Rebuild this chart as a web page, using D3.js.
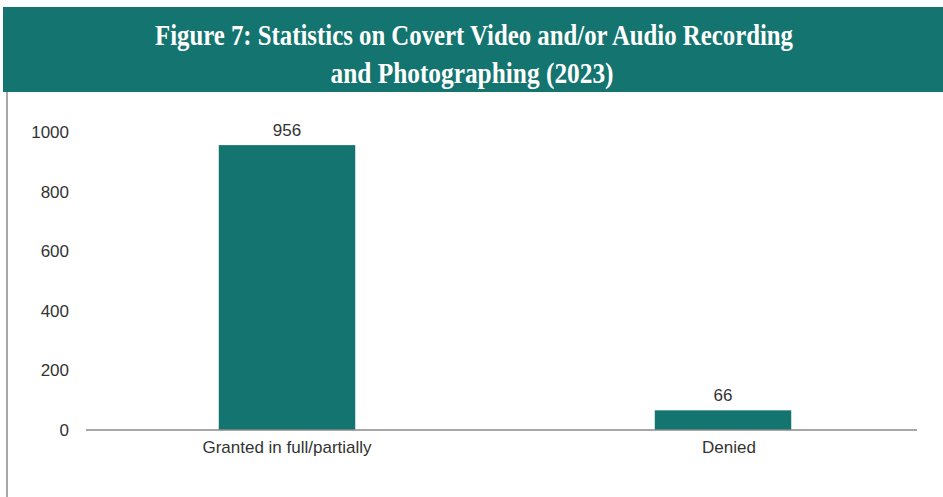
<!DOCTYPE html>
<html>
<head>
<meta charset="utf-8">
<script src="https://cdn.jsdelivr.net/npm/d3@7"></script>
<style>
  html, body { margin: 0; padding: 0; background: #fff; }
  svg { display: block; }
</style>
</head>
<body>
<svg id="chart" width="943" height="497"></svg>
<script>
const titleLines = ["Figure 7: Statistics on Covert Video and/or Audio Recording", "and Photographing (2023)"];
const categories = ["Granted in full/partially", "Denied"];
const values = [956, 66];
const yTicks = [0, 200, 400, 600, 800, 1000];

const W = 943, H = 497;
const teal = "#137470";
const svg = d3.select("#chart");

// banner
svg.append("rect").attr("x", 3).attr("y", 7).attr("width", W - 3).attr("height", 85).attr("fill", teal);
const titleWidths = [638, 283];
titleLines.forEach((t, i) => {
  svg.append("text")
    .attr("x", (155 + 793) / 2 - (i === 1 ? 2 : 0))
    .attr("y", 45 + i * 38)
    .attr("text-anchor", "middle")
    .attr("fill", "#fff")
    .attr("font-family", "'Liberation Serif', 'DejaVu Serif', serif")
    .attr("font-weight", "bold")
    .attr("font-size", 30)
    .attr("textLength", titleWidths[i])
    .attr("lengthAdjust", "spacingAndGlyphs")
    .text(t);
});

// left border
svg.append("line").attr("x1", 7).attr("x2", 7).attr("y1", 92).attr("y2", H)
  .attr("stroke", "#8a8a8a").attr("stroke-width", 1.5);

// scales
const y = d3.scaleLinear().domain([0, 1000]).range([430, 132]);
const x = d3.scaleBand().domain(categories).range([69, 941]).paddingInner(0.687).paddingOuter(0.3435);

// y axis labels (no line)
const yAxis = svg.append("g").attr("transform", "translate(69,0)")
  .call(d3.axisLeft(y).tickValues(yTicks).tickSize(0).tickPadding(0).tickFormat(d3.format("d")));
yAxis.select(".domain").remove();
yAxis.selectAll("text")
  .attr("font-family", "'Liberation Sans', Arial, sans-serif")
  .attr("font-size", 17).attr("fill", "#333");

// bars
svg.append("g").selectAll("rect").data(values).join("rect")
  .attr("x", (d, i) => x(categories[i]))
  .attr("y", d => y(d))
  .attr("width", x.bandwidth())
  .attr("height", d => y(0) - y(d))
  .attr("fill", teal);

// x axis baseline
svg.append("line").attr("x1", 86).attr("x2", 917).attr("y1", y(0)).attr("y2", y(0))
  .attr("stroke", "#8a8a8a").attr("stroke-width", 1.5);

// category labels
const xAxis = svg.append("g").attr("transform", `translate(0,${y(0)})`)
  .call(d3.axisBottom(x).tickSize(0).tickPadding(11));
xAxis.select(".domain").remove();
xAxis.selectAll("text")
  .attr("font-family", "'Liberation Sans', Arial, sans-serif")
  .attr("font-size", 17).attr("fill", "#333");
xAxis.selectAll(".tick").filter(d => d === "Denied").select("text").attr("dx", 6);

// value labels
svg.append("g").selectAll("text").data(values).join("text")
  .attr("x", (d, i) => x(categories[i]) + x.bandwidth() / 2)
  .attr("y", d => y(d) - 9)
  .attr("text-anchor", "middle")
  .attr("font-family", "'Liberation Sans', Arial, sans-serif")
  .attr("font-size", 17).attr("fill", "#333")
  .text(d => d);
</script>
</body>
</html>
